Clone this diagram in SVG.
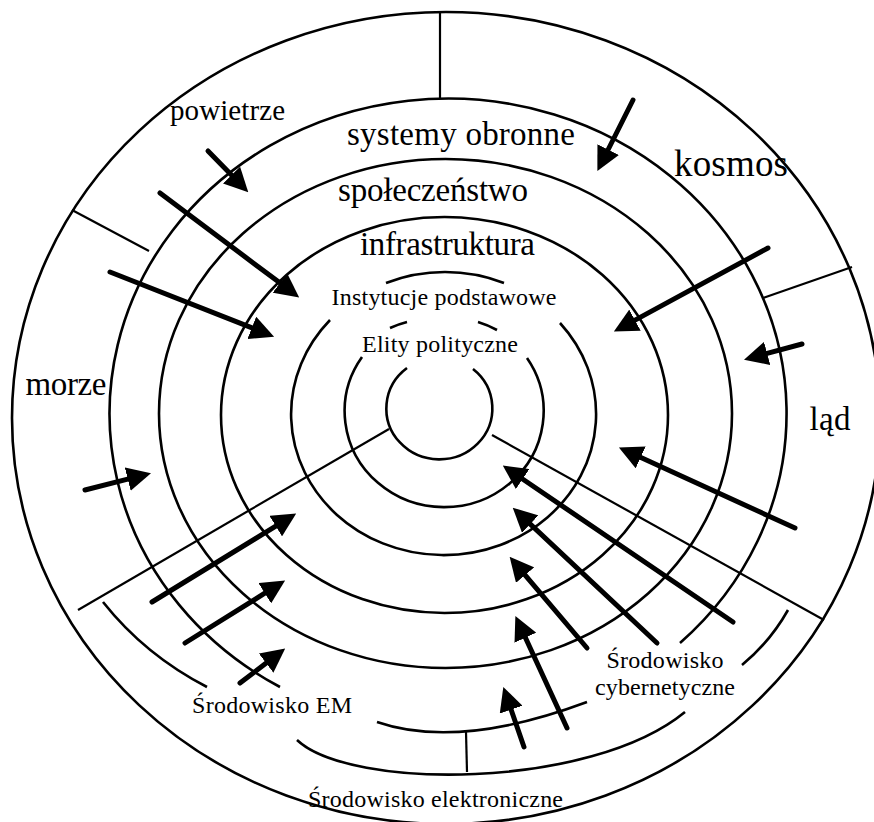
<svg xmlns="http://www.w3.org/2000/svg" width="874" height="822" viewBox="0 0 874 822">
<style>
.ring{fill:none;stroke:#000;stroke-width:2.6}
.div{fill:none;stroke:#000;stroke-width:2.2}
.arr{fill:none;stroke:#000;stroke-width:5;stroke-linecap:round;marker-end:url(#ah)}
.big{font-family:"Liberation Serif","Times New Roman",serif;font-size:33px;fill:#000;text-anchor:middle}
.sm{font-family:"Liberation Serif","Times New Roman",serif;font-size:24px;fill:#000;text-anchor:middle}
</style>
<defs>
<marker id="ah" viewBox="0 0 24 24" refX="1" refY="12" markerWidth="24" markerHeight="24" markerUnits="userSpaceOnUse" orient="auto"><path d="M0,0 L24,12 L0,24 z" fill="#000"/></marker>
</defs>
<rect width="874" height="822" fill="#fff"/>
<g id="ring1"><ellipse class="ring" cx="446" cy="418" rx="434" ry="406"/></g>
<g id="ring2"><path class="ring" d="M280,687 A338.5,315 0 1,1 680,643"/></g>
<g id="ring3"><ellipse class="ring" cx="445.5" cy="413.5" rx="286.5" ry="254.5"/></g>
<g id="ring4"><ellipse class="ring" cx="444.5" cy="415" rx="223.5" ry="198"/></g>
<g id="ring5"><path class="ring" d="M330,320 A152.5,141 0 1,0 560,323"/><path class="ring" d="M386,283 A152.5,141 0 0,1 504,283"/></g>
<g id="ring6"><path class="ring" d="M362,357 A99.5,96 0 1,0 527,358"/><path class="ring" d="M390,328 A99.5,96 0 0,1 407,322"/><path class="ring" d="M478,322 A99.5,96 0 0,1 497,330"/></g>
<g id="ring7"><path class="ring" d="M407,368 A53,51 0 1,0 473,369"/></g>
<g id="dividers">
<line class="div" x1="440" y1="12" x2="440" y2="99"/>
<line class="div" x1="72" y1="210" x2="149" y2="251"/>
<line class="div" x1="763" y1="298" x2="852" y2="267"/>
<line class="div" x1="389" y1="429" x2="78" y2="610"/>
<line class="div" x1="492" y1="435" x2="824" y2="620"/>
<line class="div" x1="466" y1="732" x2="467" y2="772"/>
<path class="ring" d="M103,602 Q145,655 207,687"/>
<path class="ring" d="M377,722 Q458,750 587,702"/>
<path class="ring" d="M297,740 C350,790 590,790 685,712"/>
<path class="ring" d="M742,665 Q770,642 788,610"/>
</g>
<g id="connectors">
<line class="arr" x1="208" y1="151" x2="232.2" y2="175.8"/>
<line class="arr" x1="160" y1="193" x2="280.8" y2="283.6"/>
<line class="arr" x1="110" y1="272" x2="252.7" y2="328.2"/>
<line class="arr" x1="633" y1="100" x2="607.7" y2="150.5"/>
<line class="arr" x1="768" y1="248" x2="634.1" y2="320.6"/>
<line class="arr" x1="802" y1="344" x2="766.2" y2="353.7"/>
<line class="arr" x1="795" y1="528" x2="639.8" y2="457"/>
<line class="arr" x1="85" y1="490" x2="128.7" y2="478.9"/>
<line class="arr" x1="152" y1="602" x2="276.6" y2="525.6"/>
<line class="arr" x1="185" y1="643" x2="265.6" y2="592.7"/>
<line class="arr" x1="240" y1="683" x2="266.9" y2="662.5"/>
<line class="arr" x1="733" y1="622" x2="521.8" y2="478.5"/>
<line class="arr" x1="657" y1="643" x2="529.5" y2="523.4"/>
<line class="arr" x1="587" y1="648" x2="524.5" y2="574.3"/>
<line class="arr" x1="567" y1="728" x2="525" y2="636.8"/>
<line class="arr" x1="524" y1="747" x2="510.8" y2="708.7"/>
</g>
<g id="powietrze"><text class="big" x="227.5" y="120" style="font-size:29px" textLength="115">powietrze</text></g>
<g id="systemy"><text class="big" x="461" y="145" textLength="228">systemy obronne</text></g>
<g id="kosmos"><text class="big" x="731" y="176" style="font-size:37px" textLength="114">kosmos</text></g>
<g id="spoleczenstwo"><text class="big" x="433" y="201" textLength="190">społeczeństwo</text></g>
<g id="infrastruktura"><text class="big" x="447.5" y="255" textLength="175">infrastruktura</text></g>
<g id="instytucje"><text class="sm" x="444" y="305" textLength="225">Instytucje podstawowe</text></g>
<g id="elity"><text class="sm" x="440" y="352" textLength="156">Elity polityczne</text></g>
<g id="morze"><text class="big" x="66" y="395" textLength="81">morze</text></g>
<g id="lad"><text class="big" x="830" y="430" textLength="41">ląd</text></g>
<g id="em"><text class="sm" x="272" y="713" textLength="160">Środowisko EM</text></g>
<g id="cyber"><text class="sm" x="665" y="668" textLength="117">Środowisko</text><text class="sm" x="665" y="695" textLength="140">cybernetyczne</text></g>
<g id="elektroniczne"><text class="sm" x="435.5" y="807" textLength="255">Środowisko elektroniczne</text></g>
</svg>
